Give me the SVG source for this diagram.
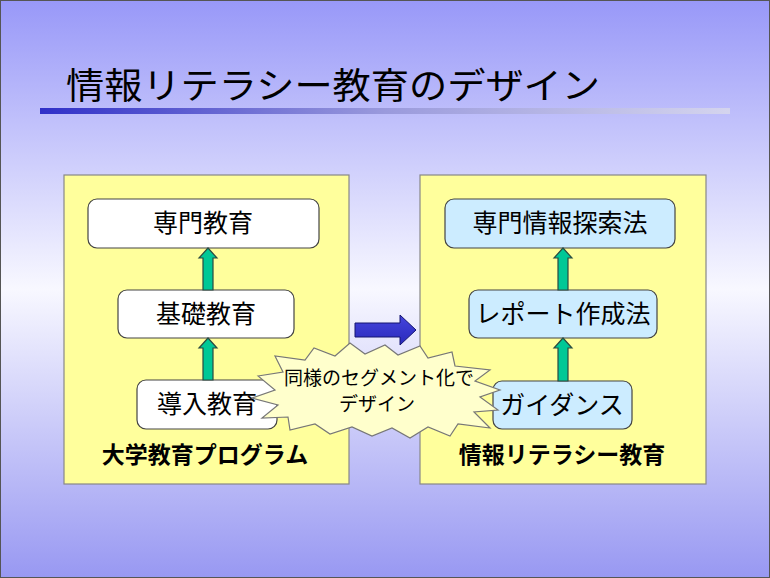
<svg xmlns="http://www.w3.org/2000/svg" width="770" height="578" viewBox="0 0 770 578">
<defs>
<linearGradient id="bg" x1="0" y1="0" x2="0" y2="1">
<stop offset="0" stop-color="#9898F8"/>
<stop offset="0.5" stop-color="#F8F8FF"/>
<stop offset="1" stop-color="#9898F2"/>
</linearGradient>
<linearGradient id="bar" x1="0" y1="0" x2="1" y2="0">
<stop offset="0" stop-color="#3030C8"/>
<stop offset="0.5" stop-color="#9A9ADC"/>
<stop offset="1" stop-color="#D4D4EE"/>
</linearGradient>
<linearGradient id="blue" x1="0" y1="0" x2="0" y2="1">
<stop offset="0" stop-color="#4444DD"/>
<stop offset="1" stop-color="#2A2ABB"/>
</linearGradient>
<style>
text{font-family:"Noto Sans CJK JP","Noto Sans CJK SC",sans-serif;fill:#000;text-anchor:middle}
.panel{fill:#FFFF9C;stroke:#888;stroke-width:1.2}
.wbox{fill:#FFFFFF;stroke:#444;stroke-width:1.2}
.bbox{fill:#CCECFF;stroke:#444;stroke-width:1.2}
.t{font-size:25px}
.lbl{font-size:23px;font-weight:bold}
.garrow{fill:#00C896;stroke:#2A4A40;stroke-width:1.2;stroke-linejoin:miter}
.c{font-size:19px}
</style>
</defs>
<rect x="0" y="0" width="770" height="578" fill="url(#bg)"/>
<rect x="0.5" y="0.5" width="769" height="577" fill="none" stroke="#555" stroke-width="1"/>

<g id="title">
<text x="333" y="99" style="font-size:36px" textLength="534" lengthAdjust="spacingAndGlyphs">情報リテラシー教育のデザイン</text>
<rect x="40" y="108" width="690" height="6" fill="url(#bar)"/>
</g>

<g id="panel-left">
<rect class="panel" x="64" y="175" width="285" height="309"/>
<text class="lbl" x="205" y="463">大学教育プログラム</text>
</g>
<g id="panel-right">
<rect class="panel" x="420" y="175" width="286" height="309"/>
<text class="lbl" x="562" y="463">情報リテラシー教育</text>
</g>

<g id="senmon">
<rect class="wbox" x="88" y="199" width="231" height="49" rx="9"/>
<text class="t" x="203" y="232">専門教育</text>
</g>
<g id="kiso">
<rect class="wbox" x="118" y="290" width="176" height="48" rx="9"/>
<text class="t" x="206" y="323">基礎教育</text>
</g>
<g id="donyu">
<rect class="wbox" x="137" y="380" width="140" height="49" rx="9"/>
<text class="t" x="207" y="413">導入教育</text>
</g>

<g id="senmon-joho">
<rect class="bbox" x="445" y="199" width="230" height="49" rx="9"/>
<text class="t" x="560" y="232">専門情報探索法</text>
</g>
<g id="report">
<rect class="bbox" x="469" y="290" width="188" height="48" rx="9"/>
<text class="t" x="563" y="323">レポート作成法</text>
</g>
<g id="guidance">
<rect class="bbox" x="493" y="381" width="139" height="48" rx="9"/>
<text class="t" x="562" y="414">ガイダンス</text>
</g>

<g id="connectors">
<polygon class="garrow" points="208,248 217,258 213,258 213,290 203,290 203,258 199,258"/>
<polygon class="garrow" points="208,338 217,348 213,348 213,380 203,380 203,348 199,348"/>
<polygon class="garrow" points="563,248 572,258 568,258 568,290 558,290 558,258 554,258"/>
<polygon class="garrow" points="563,338 572,348 568,348 568,381 558,381 558,348 554,348"/>
<polygon points="355,323 400,323 400,315 416,330 400,345 400,337 355,337" fill="url(#blue)" stroke="#141470" stroke-width="1"/>
</g>

<g id="callout">
<polygon fill="#FFFFCC" stroke="#777" stroke-width="1.2" points="258,376 283,372 275,356 305,360 314,348 335,356 350,343 365,354 385,345 398,355 420,346 428,358 452,352 455,366 490,370 475,381 500,390 480,397 498,410 474,412 490,428 458,424 450,436 428,427 410,438 392,428 372,436 352,427 330,434 315,424 290,430 288,417 262,418 278,405 252,398 275,390"/>
<text class="c" x="379" y="385">同様のセグメント化で</text>
<text class="c" x="377" y="411">デザイン</text>
</g>
</svg>
